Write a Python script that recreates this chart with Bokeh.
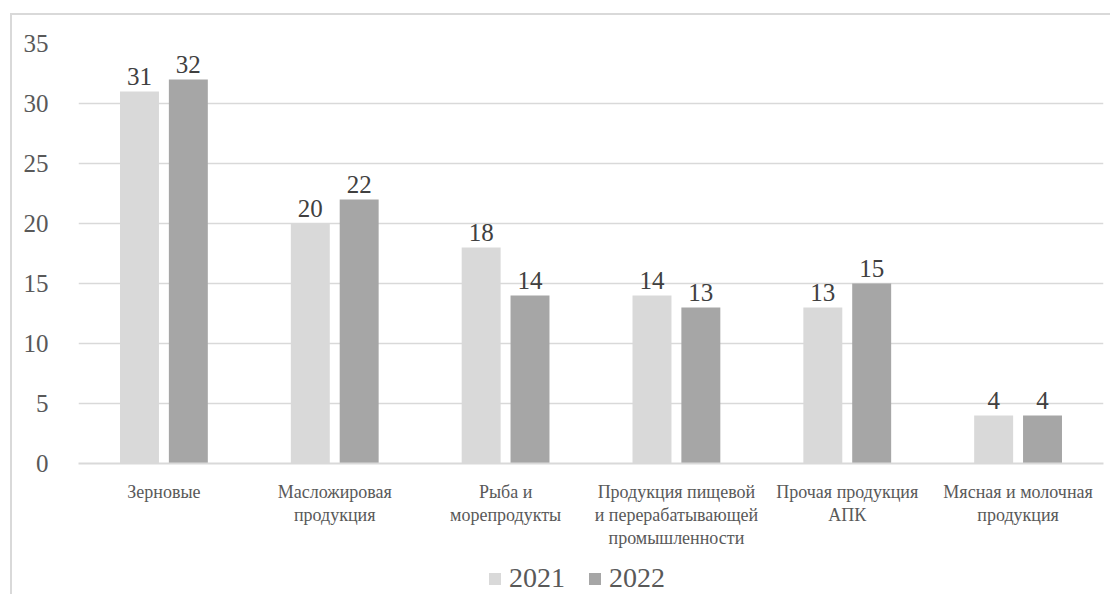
from bokeh.plotting import figure
from bokeh.layouts import column
from bokeh.models import (ColumnDataSource, FactorRange, Range1d, FixedTicker,
                          Legend, LegendItem)
from bokeh.transform import dodge
from bokeh.core.properties import value
from bokeh.embed import file_html
from bokeh.resources import INLINE

categories = [
    "Зерновые",
    "Масложировая\nпродукция",
    "Рыба и\nморепродукты",
    "Продукция пищевой\nи перерабатывающей\nпромышленности",
    "Прочая продукция\nАПК",
    "Мясная и молочная\nпродукция",
]
years = ["2021", "2022"]
values_2021 = [31, 20, 18, 14, 13, 4]
values_2022 = [32, 22, 14, 13, 15, 4]
y_ticks = [0, 5, 10, 15, 20, 25, 30, 35]

FONT = "'Liberation Serif', 'Times New Roman', 'DejaVu Serif', serif"
C2021 = "#d9d9d9"
C2022 = "#a6a6a6"
TXT = "#595959"
W = 1098

src = ColumnDataSource(dict(
    cat=categories,
    v2021=values_2021,
    v2022=values_2022,
    l2021=[str(v) for v in values_2021],
    l2022=[str(v) for v in values_2022],
))

p = figure(width=W, height=544, output_backend="svg", toolbar_location=None,
           x_range=FactorRange(factors=categories), y_range=Range1d(0, 35),
           min_border_left=66, min_border_right=7, min_border_top=28,
           min_border_bottom=96)
p.outline_line_color = None
p.background_fill_color = "white"
p.border_fill_color = "white"

off = 0.143
bw = 0.228
p.vbar(x=dodge("cat", -off, range=p.x_range), top="v2021", width=bw,
       source=src, fill_color=C2021, line_color=None)
p.vbar(x=dodge("cat", off, range=p.x_range), top="v2022", width=bw,
       source=src, fill_color=C2022, line_color=None)

for col, lab, o in (("v2021", "l2021", -off), ("v2022", "l2022", off)):
    p.text(x=dodge("cat", o, range=p.x_range), y=col, text=lab, source=src,
           y_offset=-15, text_align="center", text_baseline="alphabetic",
           text_font=value(FONT), text_font_size="25px", text_color="#404040")

# axes
p.yaxis.ticker = FixedTicker(ticks=y_ticks)
p.yaxis.axis_line_color = None
p.yaxis.major_tick_line_color = None
p.yaxis.minor_tick_line_color = None
p.yaxis.major_label_text_font = FONT
p.yaxis.major_label_text_font_size = "25px"
p.yaxis.major_label_text_color = TXT
p.yaxis.major_label_standoff = 24

p.xaxis.axis_line_color = "#d9d9d9"
p.xaxis.axis_line_width = 2
p.xaxis.major_tick_line_color = None
p.xaxis.minor_tick_line_color = None
p.xaxis.major_label_text_font = FONT
p.xaxis.major_label_text_font_size = "18px"
p.xaxis.major_label_text_color = TXT
p.xaxis.major_label_text_line_height = 1.15
p.xaxis.major_label_standoff = 12

p.xgrid.grid_line_color = None
p.ygrid.grid_line_color = "#d9d9d9"
p.ygrid.grid_line_width = 1.5

# legend strip (separate figure so the legend is not clipped)
lf = figure(width=W, height=35, output_backend="svg", toolbar_location=None,
            x_range=Range1d(0, 1), y_range=Range1d(0, 1),
            x_axis_type=None, y_axis_type=None, min_border=0)
lf.outline_line_color = None
lf.background_fill_color = "white"
lf.border_fill_color = "white"
hidden = ColumnDataSource(dict(x=[-10.0], top=[-10.0]))
g1 = lf.vbar(x="x", top="top", width=0.1, source=hidden, fill_color=C2021, line_color=None)
g2 = lf.vbar(x="x", top="top", width=0.1, source=hidden, fill_color=C2022, line_color=None)
legend = Legend(items=[LegendItem(label=years[0], renderers=[g1]),
                       LegendItem(label=years[1], renderers=[g2])],
                orientation="horizontal", location=(409, 0),
                glyph_width=15, glyph_height=15, label_standoff=7, spacing=22,
                padding=0, margin=0, border_line_color=None,
                background_fill_alpha=0,
                label_text_font=FONT, label_text_font_size="28px",
                label_text_color=TXT)
lf.add_layout(legend, "center")

layout = column(p, lf, spacing=0)
layout.styles = {"margin-left": "10px", "margin-top": "13px",
                 "border-left": "2px solid #d9d9d9",
                 "border-top": "2px solid #d9d9d9"}

open("out.html", "w").write(file_html(layout, INLINE))
